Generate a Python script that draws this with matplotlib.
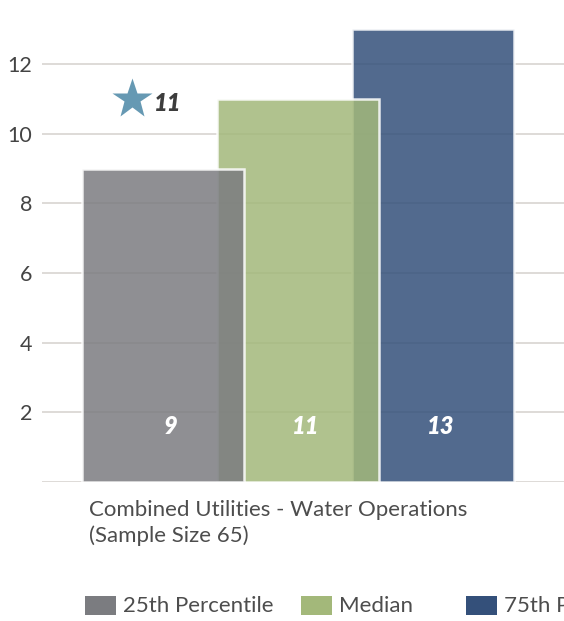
import matplotlib
matplotlib.use("Agg")
import matplotlib.pyplot as plt
from matplotlib.patches import Rectangle

# Benchmark values for one category
category = "Combined Utilities - Water Operations\n(Sample Size 65)"
series = ["25th Percentile", "Median", "75th Percentile"]
values = [9, 11, 13]
colors = ["#7b7c80", "#a3b87a", "#34507a"]
org_value = 11

yticks = [0, 2, 4, 6, 8, 10, 12]
ytick_labels = ["", "2", "4", "6", "8", "10", "12"]

plt.rcParams["font.family"] = ["Lato", "DejaVu Sans"]

fig = plt.figure(figsize=(5.64, 6.21), dpi=100)
ax = fig.add_axes([42 / 564, 139 / 621, 522 / 564, 470 / 621])

# overlapping bars, drawn right to left so the lower ones sit on top
width = 1.2
for i in reversed(range(len(values))):
    ax.bar(i, values[i], width=width, color=colors[i], alpha=0.85,
           edgecolor="white", linewidth=1.8, zorder=3 + (len(values) - i))
    ax.text(i + 0.05, 1.58, str(values[i]), ha="center", va="center",
            color="white", fontsize=17, fontweight="heavy", fontstyle="italic",
            zorder=10)

# organisation marker
ax.plot(-0.233, org_value, marker="*", ms=30, color="#6699b3",
        mec="none", zorder=10, clip_on=False)
ax.annotate(str(org_value), (-0.233, org_value), xytext=(16, -3),
            textcoords="offset points", ha="left", va="center",
            fontsize=17, fontweight="heavy", fontstyle="italic",
            color="#3d3d3d", zorder=10)

ax.set_xlim(-0.9, 2.967)
ax.set_ylim(0, 13.5)
ax.set_yticks(yticks)
ax.set_yticklabels(ytick_labels)
ax.set_xticks([])
ax.tick_params(axis="y", length=0, pad=7, labelsize=15.5, labelcolor="#444444")
ax.grid(axis="y", color="#dedbd7", linewidth=1.4)
ax.set_axisbelow(True)
for s in ax.spines.values():
    s.set_visible(False)

ax.annotate(category, (-0.6, 0), xytext=(5, -13), textcoords="offset points",
            ha="left", va="top", fontsize=16, color="#4d4d4d",
            linespacing=1.3)

# legend row along the bottom (runs past the right edge)
legend_x = [85, 301, 466]
for x0, name, c in zip(legend_x, series, colors):
    fig.add_artist(Rectangle((x0 / 564, 1 - 615 / 621), 31 / 564, 19 / 621,
                             transform=fig.transFigure, facecolor=c,
                             edgecolor="none"))
    fig.text((x0 + 38) / 564, 1 - 606 / 621, name, ha="left", va="center",
             fontsize=16, color="#4d4d4d")

fig.savefig("out.png", dpi=100)
